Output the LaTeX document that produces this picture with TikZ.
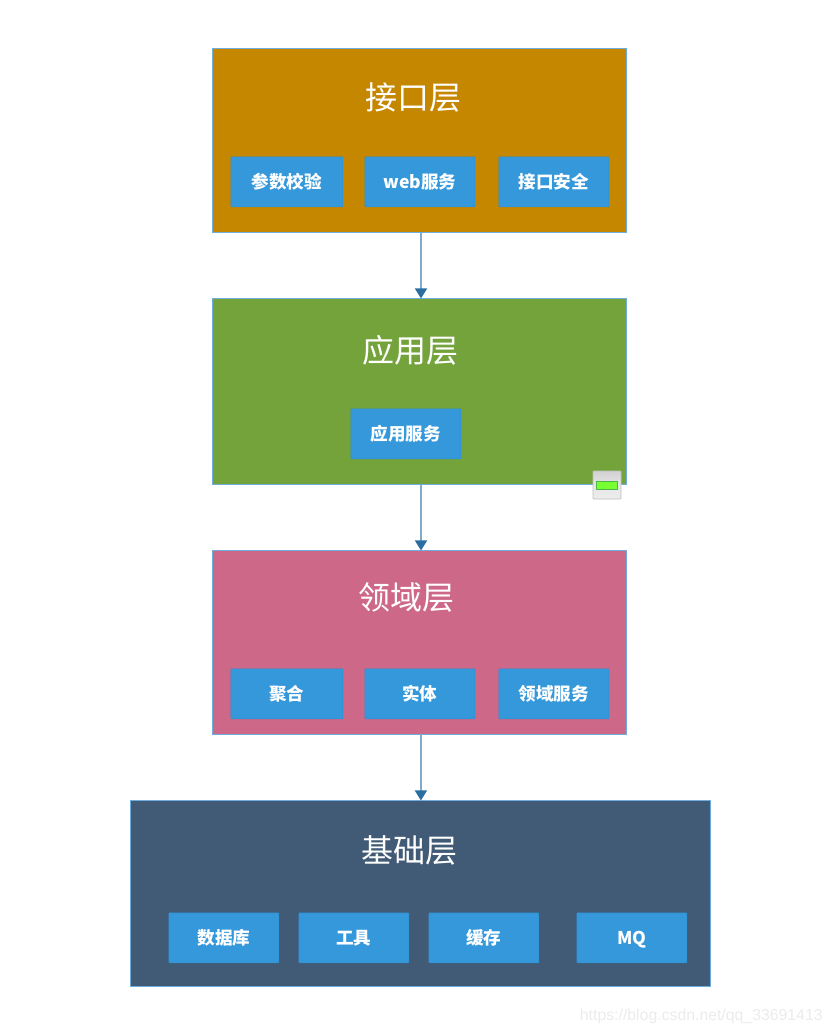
\documentclass[tikz,border=0pt]{standalone}
\usepackage{fontspec}
\setmainfont{Noto Sans CJK SC}
\newfontfamily\markfont{Liberation Sans}
\usepackage{xcolor}
\usetikzlibrary{arrows.meta}
\definecolor{layerline}{HTML}{6FAEDC}
\definecolor{flowline}{HTML}{7FAACB}
\definecolor{flowtip}{HTML}{2A6DA0}
\definecolor{orangelayer}{HTML}{C68700}
\definecolor{greenlayer}{HTML}{74A33C}
\definecolor{pinklayer}{HTML}{CD6889}
\definecolor{navylayer}{HTML}{415B76}
\definecolor{itembox}{HTML}{3498DB}
\tikzset{
  layer/.style={draw=layerline, line width=0.5pt, inner sep=0pt, minimum width=414*0.2mm},
  item/.style={fill=itembox, draw=itembox!93!black, line width=0.2pt, rounded corners=0.3pt, text=white, font=\bfseries\fontsize{10}{12}\selectfont, inner sep=0pt, text height=10pt, text depth=2pt, minimum height=50*0.2mm},
  title/.style={text=white, inner sep=0pt, font=\fontsize{18.2}{22}\selectfont},
  flow/.style={draw=flowline, line width=0.8pt, -{Triangle[length=2mm,width=2.4mm,color=flowtip]}}
}
\begin{document}
\begin{tikzpicture}[x=0.2mm, y=-0.2mm]
        \useasboundingbox (0, 0) rectangle (832, 1034);

        % capas
        \node[layer, fill=orangelayer, minimum height=184*0.2mm] (iface) at (419.9, 140.9) {};
        \node[layer, fill=greenlayer, minimum height=186*0.2mm] (app) at (419.9, 391.9) {};
        \node[layer, fill=pinklayer, minimum height=184*0.2mm] (domain) at (419.9, 642.9) {};
        \node[layer, fill=navylayer, minimum width=580*0.2mm, minimum height=186*0.2mm] (infra) at (420.9, 893.9) {};

        % titulos
        \node[title] (ifaceT) at (413.5, 97.5) {接口层};
        \node[title] (appT) at (410.5, 350.5) {应用层};
        \node[title] (domainT) at (406.5, 597.5) {领域层};
        \node[title] (infraT) at (409.5, 850.5) {基础层};

        %接口层
        \node[item, minimum width=112*0.2mm] (param) at (286.9, 181.9) {参数校验};
        \node[item, minimum width=110*0.2mm] (web) at (419.9, 181.9) {web服务};
        \node[item, minimum width=110*0.2mm] (safe) at (553.9, 181.9) {接口安全};

        % 应用层
        \node[item, minimum width=110*0.2mm] (appsrv) at (405.9, 433.9) {应用服务};

        % 领域层
        \node[item, minimum width=112*0.2mm] (agg) at (286.9, 693.9) {聚合};
        \node[item, minimum width=110*0.2mm] (entity) at (419.9, 693.9) {实体};
        \node[item, minimum width=110*0.2mm] (domsrv) at (553.9, 693.9) {领域服务};

        % 基础层
        \node[item, minimum width=110*0.2mm] (db) at (223.9, 937.9) {数据库};
        \node[item, minimum width=110*0.2mm] (tool) at (353.9, 937.9) {工具};
        \node[item, minimum width=110*0.2mm] (cache) at (483.9, 937.9) {缓存};
        \node[item, minimum width=110*0.2mm] (mq) at (631.9, 937.9) {MQ};

        % flechas
        \draw[flow] ([xshift=0.22mm]iface.south) -- ([xshift=0.22mm]app.north);
        \draw[flow] ([xshift=0.22mm]app.south) -- ([xshift=0.22mm]domain.north);
        \draw[flow] (domain.south -| infra.north) -- (infra.north);

        % marca
        \node[draw=black!25, line width=0.4pt, rounded corners=0.3pt, top color=black!18, bottom color=black!7, middle color=black!10, minimum width=28*0.2mm, minimum height=28*0.2mm, inner sep=0pt] (badge) at (607, 485) {};
        \node[fill=green!55!lime!80!white, draw=green!60!black!70, line width=0.4pt, minimum width=21*0.2mm, minimum height=8*0.2mm, inner sep=0pt] (badgeLed) at (607, 485) {};

        \node[text=black!8, inner sep=0pt, font=\markfont\fontsize{9}{11}\selectfont, anchor=east] (mark) at (823, 1016) {https://blog.csdn.net/qq\_33691413};
    \end{tikzpicture}
\end{document}
